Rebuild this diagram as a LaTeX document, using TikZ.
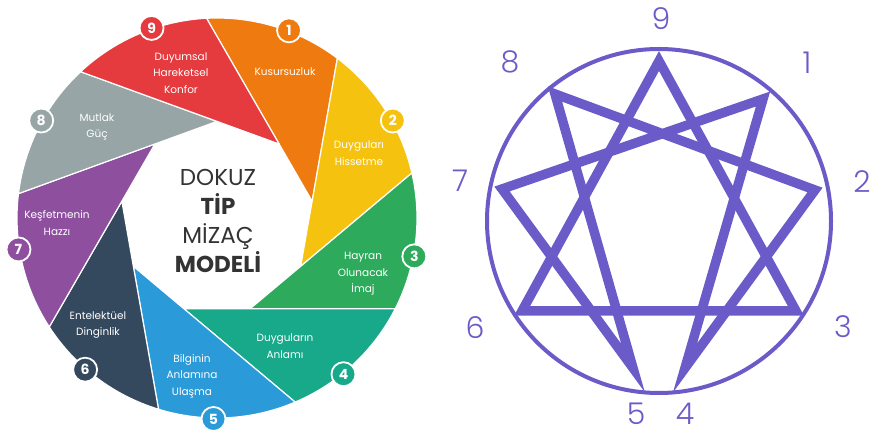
\documentclass[tikz,border=0pt]{standalone}
\usepackage{fontspec}
\setmainfont{Poppins}
\newfontfamily\lightfont{Poppins Light}
\usepackage{tikz}

\definecolor{segRed}{HTML}{E53A3E}
\definecolor{segOrange}{HTML}{EF7B10}
\definecolor{segYellow}{HTML}{F5C210}
\definecolor{segGreen}{HTML}{2EAA5C}
\definecolor{segTeal}{HTML}{17A98A}
\definecolor{segBlue}{HTML}{2B9AD9}
\definecolor{segSlate}{HTML}{34495E}
\definecolor{segPurple}{HTML}{8E4F9F}
\definecolor{segGray}{HTML}{97A5A6}
\definecolor{ennPurple}{HTML}{6A5BC8}

\begin{document}
\begin{tikzpicture}[x=1pt, y=1pt,
  blade/.style={draw=white, line width=1.2pt, line join=round},
  badge/.style={circle, draw=white, line width=1.8pt, minimum size=24pt, inner sep=0pt,
    text=white, font=\fontsize{14}{14}\selectfont\bfseries},
  bladetext/.style={text=white, align=center, font=\fontsize{10.5}{16.5}\selectfont},
  ennline/.style={draw=ennPurple, line width=9.5pt, line join=miter},
  ennnum/.style={text=ennPurple, font=\lightfont\fontsize{30}{30}\selectfont}]
\useasboundingbox (0,0) rectangle (875,436);

% Shutter wheel
\begin{scope}[shift={(217,218)}]
\filldraw[blade, fill=segOrange] (93:200) arc[start angle=93, end angle=53, radius=200] -- (10:96.6) -- cycle;
\filldraw[blade, fill=segYellow] (53:200) arc[start angle=53, end angle=13, radius=200] -- (-30:96.6) -- cycle;
\filldraw[blade, fill=segGreen] (13:200) arc[start angle=13, end angle=-27, radius=200] -- (-70:96.6) -- cycle;
\filldraw[blade, fill=segTeal] (-27:200) arc[start angle=-27, end angle=-67, radius=200] -- (-110:96.6) -- cycle;
\filldraw[blade, fill=segBlue] (-67:200) arc[start angle=-67, end angle=-107, radius=200] -- (-150:96.6) -- cycle;
\filldraw[blade, fill=segSlate] (-107:200) arc[start angle=-107, end angle=-147, radius=200] -- (-190:96.6) -- cycle;
\filldraw[blade, fill=segPurple] (-147:200) arc[start angle=-147, end angle=-187, radius=200] -- (-230:96.6) -- cycle;
\filldraw[blade, fill=segGray] (173:200) arc[start angle=173, end angle=133, radius=200] -- (90:96.6) -- cycle;
\filldraw[blade, fill=segRed] (133:200) arc[start angle=133, end angle=93, radius=200] -- (50:96.6) -- cycle;

% Number badges
\node[badge, fill=segOrange] (b1) at (69:201) {1};
\node[badge, fill=segYellow] (b2) at (29:201) {2};
\node[badge, fill=segGreen] (b3) at (-11:201) {3};
\node[badge, fill=segTeal] (b4) at (-51:201) {4};
\node[badge, fill=segBlue] (b5) at (-91:201) {5};
\node[badge, fill=segSlate] (b6) at (-131:201) {6};
\node[badge, fill=segPurple] (b7) at (-171:201) {7};
\node[badge, fill=segGray] (b8) at (151:201) {8};
\node[badge, fill=segRed] (b9) at (109:201) {9};
\end{scope}

% Blade texts
\node[bladetext] (t9) at (181,363) {Duyumsal\\Hareketsel\\Konfor};
\node[bladetext] (t1) at (285,364) {Kusursuzluk};
\node[bladetext] (t2) at (359,283) {Duyguları\\Hissetme};
\node[bladetext] (t3) at (363,162) {Hayran\\Olunacak\\İmaj};
\node[bladetext] (t4) at (285,90) {Duyguların\\Anlamı};
\node[bladetext] (t5) at (192,60) {Bilginin\\Anlamına\\Ulaşma};
\node[bladetext] (t6) at (98,111) {Entelektüel\\Dinginlik};
\node[bladetext] (t7) at (57,213) {Keşfetmenin\\Hazzı};
\node[bladetext] (t8) at (97,309) {Mutlak\\Güç};

% Title
\node[align=center, text=black!80, font=\fontsize{23}{29}\selectfont] (title) at (218,215)
  {DOKUZ\\\textbf{TİP}\\MİZAÇ\\\textbf{MODELİ}};

% Enneagram
\draw[ennPurple, line width=4pt] (659,215) circle[radius=172];
\coordinate (e9) at (659,375);
\coordinate (e1) at (763,337);
\coordinate (e2) at (815,246);
\coordinate (e3) at (796,125);
\coordinate (e4) at (685,68);
\coordinate (e5) at (633,68);
\coordinate (e6) at (522,125);
\coordinate (e7) at (502,247);
\coordinate (e8) at (555,342);
\draw[ennline] (e9) -- (e3) -- (e6) -- cycle;
\draw[ennline] (e1) -- (e4) -- (e2) -- (e8) -- (e5) -- (e7) -- cycle;

% Enneagram numbers
\node[ennnum] (n9) at (661,417) {9};
\node[ennnum] (n1) at (807,373) {1};
\node[ennnum] (n2) at (862,254) {2};
\node[ennnum] (n3) at (843,109) {3};
\node[ennnum] (n4) at (685,22) {4};
\node[ennnum] (n5) at (636,22) {5};
\node[ennnum] (n6) at (475,108) {6};
\node[ennnum] (n7) at (460,255) {7};
\node[ennnum] (n8) at (510,374) {8};
\end{tikzpicture}
\end{document}
